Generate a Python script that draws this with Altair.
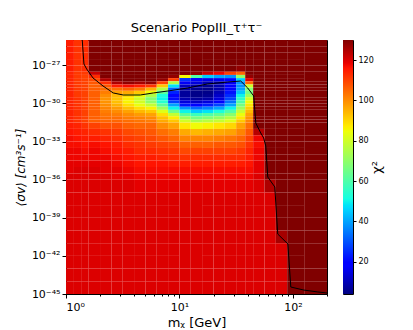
import altair as alt
import pandas as pd

# ---- grid ----
# log10 of mass cell edges (GeV), left to right
mass_edges_log = [0.0, 0.07, 0.14, 0.2, 0.3, 0.4, 0.5, 0.6, 0.7, 0.8, 0.9, 1.0, 1.1,
                  1.2, 1.3, 1.4, 1.5, 1.58, 1.65, 1.75, 1.85, 1.95, 2.1, 2.301]
# log10 of <sigma v> cell edges, top to bottom
sigma_edges_log = [-25.0, -25.5, -26.0, -26.5, -27.0, -27.5,
                   -27.75, -28.0, -28.25, -28.5, -28.75, -29.0, -29.25, -29.5, -29.75,
                   -30.0, -30.25, -30.5, -30.75, -31.0, -31.25, -31.5,
                   -32.0, -32.5, -33.0, -33.5, -34.0, -34.5, -35.0, -35.5, -36.0,
                   -37.0, -38.0, -39.0, -40.0, -41.0, -42.0, -43.0, -44.0, -45.0]

# chi^2 per mass column, rows from top to bottom
chi2_cols = [
    [115]*5 + [114]*16 + [115, 116, 117, 117, 118, 118, 119, 119, 120] + [120]*9,
    [112]*5 + [111]*8 + [112]*8 + [114, 115, 116, 117, 118, 118, 119] + [120]*11,
    [113]*5 + [111] + [110]*15 + [112, 114, 115, 116, 117, 118, 119] + [120]*11,
    [135]*5 + [122, 113, 109, 107] + [106]*12 + [110, 113, 115, 117, 118, 118, 119] + [120]*11,
    [135]*7 + [125, 113, 107, 104, 102, 100, 99, 99, 100, 101, 102, 103, 104, 105, 108, 112, 114, 116, 117, 118, 119, 119] + [120]*10,
    [135]*8 + [125, 115, 104, 97, 94, 93, 93, 95, 98, 100, 102, 104, 105, 108, 111, 113, 115, 116, 117, 118, 119, 119] + [120]*9,
    [135]*8 + [128, 117, 106, 96, 89, 87, 86, 89, 93, 97, 100, 102, 104, 106, 109, 111, 113, 115, 116, 117, 118, 119] + [120]*9,
    [135]*8 + [126, 115, 103, 92, 84, 80, 80, 84, 89, 94, 98, 101, 103, 105, 108, 110, 112, 113, 115, 116, 117, 118, 119] + [120]*8,
    [135]*8 + [128, 112, 95, 85, 75, 68, 70, 78, 86, 92, 97, 100, 102, 105, 107, 109, 111, 113, 115, 116, 117, 118, 119] + [120]*8,
    [135]*7 + [128, 110, 92, 75, 62, 52, 50, 54, 62, 72, 82, 89, 93, 96, 100, 104, 107, 110, 112, 114, 116, 117, 118, 119] + [120]*8,
    [135]*6 + [128, 110, 75, 48, 32, 24, 20, 21, 28, 40, 50, 65, 78, 87, 92, 97, 102, 105, 109, 111, 113, 115, 117, 118, 119] + [120]*8,
    [135]*5 + [130, 85, 26, 17, 11, 8, 7, 7, 9, 14, 22, 38, 50, 62, 72, 80, 88, 96, 101, 106, 109, 112, 115, 117, 118, 119] + [120]*8,
    [135]*5 + [128, 60, 20, 14, 9, 6, 5, 5, 7, 12, 20, 33, 45, 57, 66, 74, 85, 94, 101, 106, 110, 113, 115, 117, 118, 119] + [120]*8,
    [135]*5 + [122, 45, 15, 9, 6, 5, 5, 6, 8, 14, 23, 36, 48, 60, 68, 76, 86, 95, 101, 106, 110, 113, 115, 117, 118, 119] + [120]*8,
    [135]*5 + [118, 40, 16, 10, 9, 9, 10, 12, 14, 20, 28, 40, 52, 63, 71, 78, 88, 96, 102, 107, 110, 113, 115, 117, 118, 119] + [120]*8,
    [135]*4 + [130, 110, 38, 20, 17, 18, 20, 22, 25, 28, 34, 40, 50, 60, 69, 76, 82, 90, 97, 103, 107, 110, 113, 115, 117, 118, 119] + [120]*8,
    [135]*4 + [128, 105, 70, 45, 38, 38, 40, 44, 50, 55, 60, 66, 72, 78, 84, 88, 92, 97, 101, 105, 108, 111, 113, 115, 117, 118, 119] + [120]*8,
    [135]*6 + [128, 120, 105, 80, 68, 66, 72, 80, 85, 88, 91, 94, 97, 99, 101, 104, 107, 110, 112, 114, 115, 116, 117, 118, 119] + [120]*8,
    [135]*13 + [133]*8 + [130, 124, 118, 117, 118, 118, 119, 119] + [120]*10,
    [135]*24 + [133]*6 + [125] + [120]*8,
    [135]*30 + [132]*4 + [126] + [120]*4,
    [135]*35 + [133]*4,
    [135]*39,
]

# black contour line (mass in GeV, log10 <sigma v>)
contour_mass = [1.39, 1.44, 1.52, 1.73, 2.12, 2.61, 3.19, 4.52, 5.89, 7.83, 11.8, 17.7,
                26.6, 34.7, 40.0, 45.2, 47.1, 52.1, 55.3, 57.7, 60.1, 69.3, 73.6, 90.4,
                95.9, 125.0, 166.0, 200.0]
contour_logsigma = [-25.0, -26.89, -27.28, -27.99, -28.62, -29.17, -29.33, -29.33, -29.17,
                    -29.02, -28.78, -28.46, -28.31, -28.23, -28.78, -29.41, -31.54, -32.32,
                    -32.72, -33.35, -35.79, -36.57, -40.28, -41.06, -44.45, -44.69, -44.84,
                    -44.92]

# jet colour map
jet_offsets = [0.0, 0.11, 0.125, 0.34, 0.35, 0.375, 0.64, 0.65, 0.66, 0.89, 0.91, 1.0]
jet_colors = ["#000080", "#0000ff", "#0000ff", "#00dbff", "#00e5f7", "#15ffe2",
              "#eeff08", "#f7f500", "#ffec00", "#ff1300", "#e80000", "#800000"]
chi2_min, chi2_max = 4, 130
cbar_ticks = [20, 40, 60, 80, 100, 120]

y_exps = [-45, -42, -39, -36, -33, -30, -27]
x_major = [1, 10, 100]
x_minor = [2, 3, 4, 5, 6, 7, 8, 9, 20, 30, 40, 50, 60, 70, 80, 90, 200]

# ---- tables ----
rows = []
for i, col in enumerate(chi2_cols):
    for j, v in enumerate(col):
        rows.append({
            "m0": 10 ** mass_edges_log[i], "m1": 10 ** mass_edges_log[i + 1],
            "s0": 10 ** sigma_edges_log[j + 1], "s1": 10 ** sigma_edges_log[j],
            "chi2": v,
        })
df_heat = pd.DataFrame(rows)
df_line = pd.DataFrame({"m": contour_mass,
                        "s": [10 ** s for s in contour_logsigma],
                        "i": list(range(len(contour_mass)))})
df_cbar = pd.DataFrame({"lo": [chi2_min], "hi": [chi2_max]})

sup = str.maketrans("-0123456789", "⁻⁰¹²³⁴⁵⁶⁷⁸⁹")
def pow_label(e):
    return "10" + str(e).translate(sup)

y_expr = ""
for e in y_exps[:-1]:
    y_expr += f"datum.value < {3 * 10.0 ** e} ? '{pow_label(e)}' : "
y_expr += f"'{pow_label(y_exps[-1])}'"
x_expr = f"datum.value < 3 ? '{pow_label(0)}' : datum.value < 30 ? '{pow_label(1)}' : '{pow_label(2)}'"

color_domain = [chi2_min + f * (chi2_max - chi2_min) for f in jet_offsets]

xscale = alt.Scale(type="log", domain=[1, 200], nice=False)
yscale = alt.Scale(type="log", domain=[1e-45, 1e-25], nice=False)
y_axis = alt.Axis(values=[10.0 ** e for e in y_exps], labelExpr=y_expr,
                  title="⟨σv⟩ [cm³s⁻¹]", titleFontStyle="italic",
                  tickSize=4, labelPadding=2, titlePadding=4)

heat = alt.Chart(df_heat).mark_rect(clip=True).encode(
    x=alt.X("m0:Q", scale=xscale,
            axis=alt.Axis(values=x_major, labelExpr=x_expr, title="mᵪ [GeV]",
                          tickSize=4, labelPadding=3, titlePadding=4, orient="bottom",
                          titleFontSize=13)),
    x2="m1:Q",
    y=alt.Y("s0:Q", scale=yscale, axis=y_axis),
    y2="s1:Q",
    color=alt.Color("chi2:Q", legend=None,
                    scale=alt.Scale(domain=color_domain, range=jet_colors,
                                    clamp=True, interpolate="rgb")),
)

line = alt.Chart(df_line).mark_line(color="black", strokeWidth=1, clip=True).encode(
    x=alt.X("m:Q", scale=xscale,
            axis=alt.Axis(values=x_minor, labels=False, domain=False, tickSize=2,
                          title=None, orient="bottom")),
    y=alt.Y("s:Q", scale=yscale, axis=y_axis),
    order="i:Q",
)

main = alt.layer(heat, line).resolve_axis(x="independent").properties(
    width=261, height=254,
    title=alt.TitleParams("Scenario PopIII_τ⁺τ⁻", fontSize=13, fontWeight="normal",
                          anchor="middle", offset=5),
)

grad = alt.LinearGradient(
    gradient="linear",
    stops=[alt.GradientStop(offset=f, color=c) for f, c in zip(jet_offsets, jet_colors)],
    x1=0, x2=0, y1=1, y2=0,
)
cbar = alt.Chart(df_cbar).mark_rect(color=grad).encode(
    y=alt.Y("lo:Q", scale=alt.Scale(domain=[chi2_min, chi2_max], nice=False, zero=False),
            axis=alt.Axis(orient="right", values=cbar_ticks, title="χ²", titleAngle=270,
                          titleFontSize=13, labelFontSize=8, tickSize=3, labelPadding=2,
                          titlePadding=10, domain=False, titleBaseline="bottom")),
    y2="hi:Q",
).properties(width=10, height=254)

chart = alt.hconcat(main, cbar, spacing=14).properties(
    padding={"left": 5, "top": 13, "right": 5, "bottom": 5}
).configure(
    font="DejaVu Sans"
).configure_view(
    stroke="black", strokeWidth=1
).configure_axis(
    grid=False, labelColor="black", tickColor="black", domainColor="black",
    titleColor="black", titleFontWeight="normal", labelFontSize=11, titleFontSize=12,
)

chart.save("out.html", embed_options={"renderer": "svg", "actions": False})
